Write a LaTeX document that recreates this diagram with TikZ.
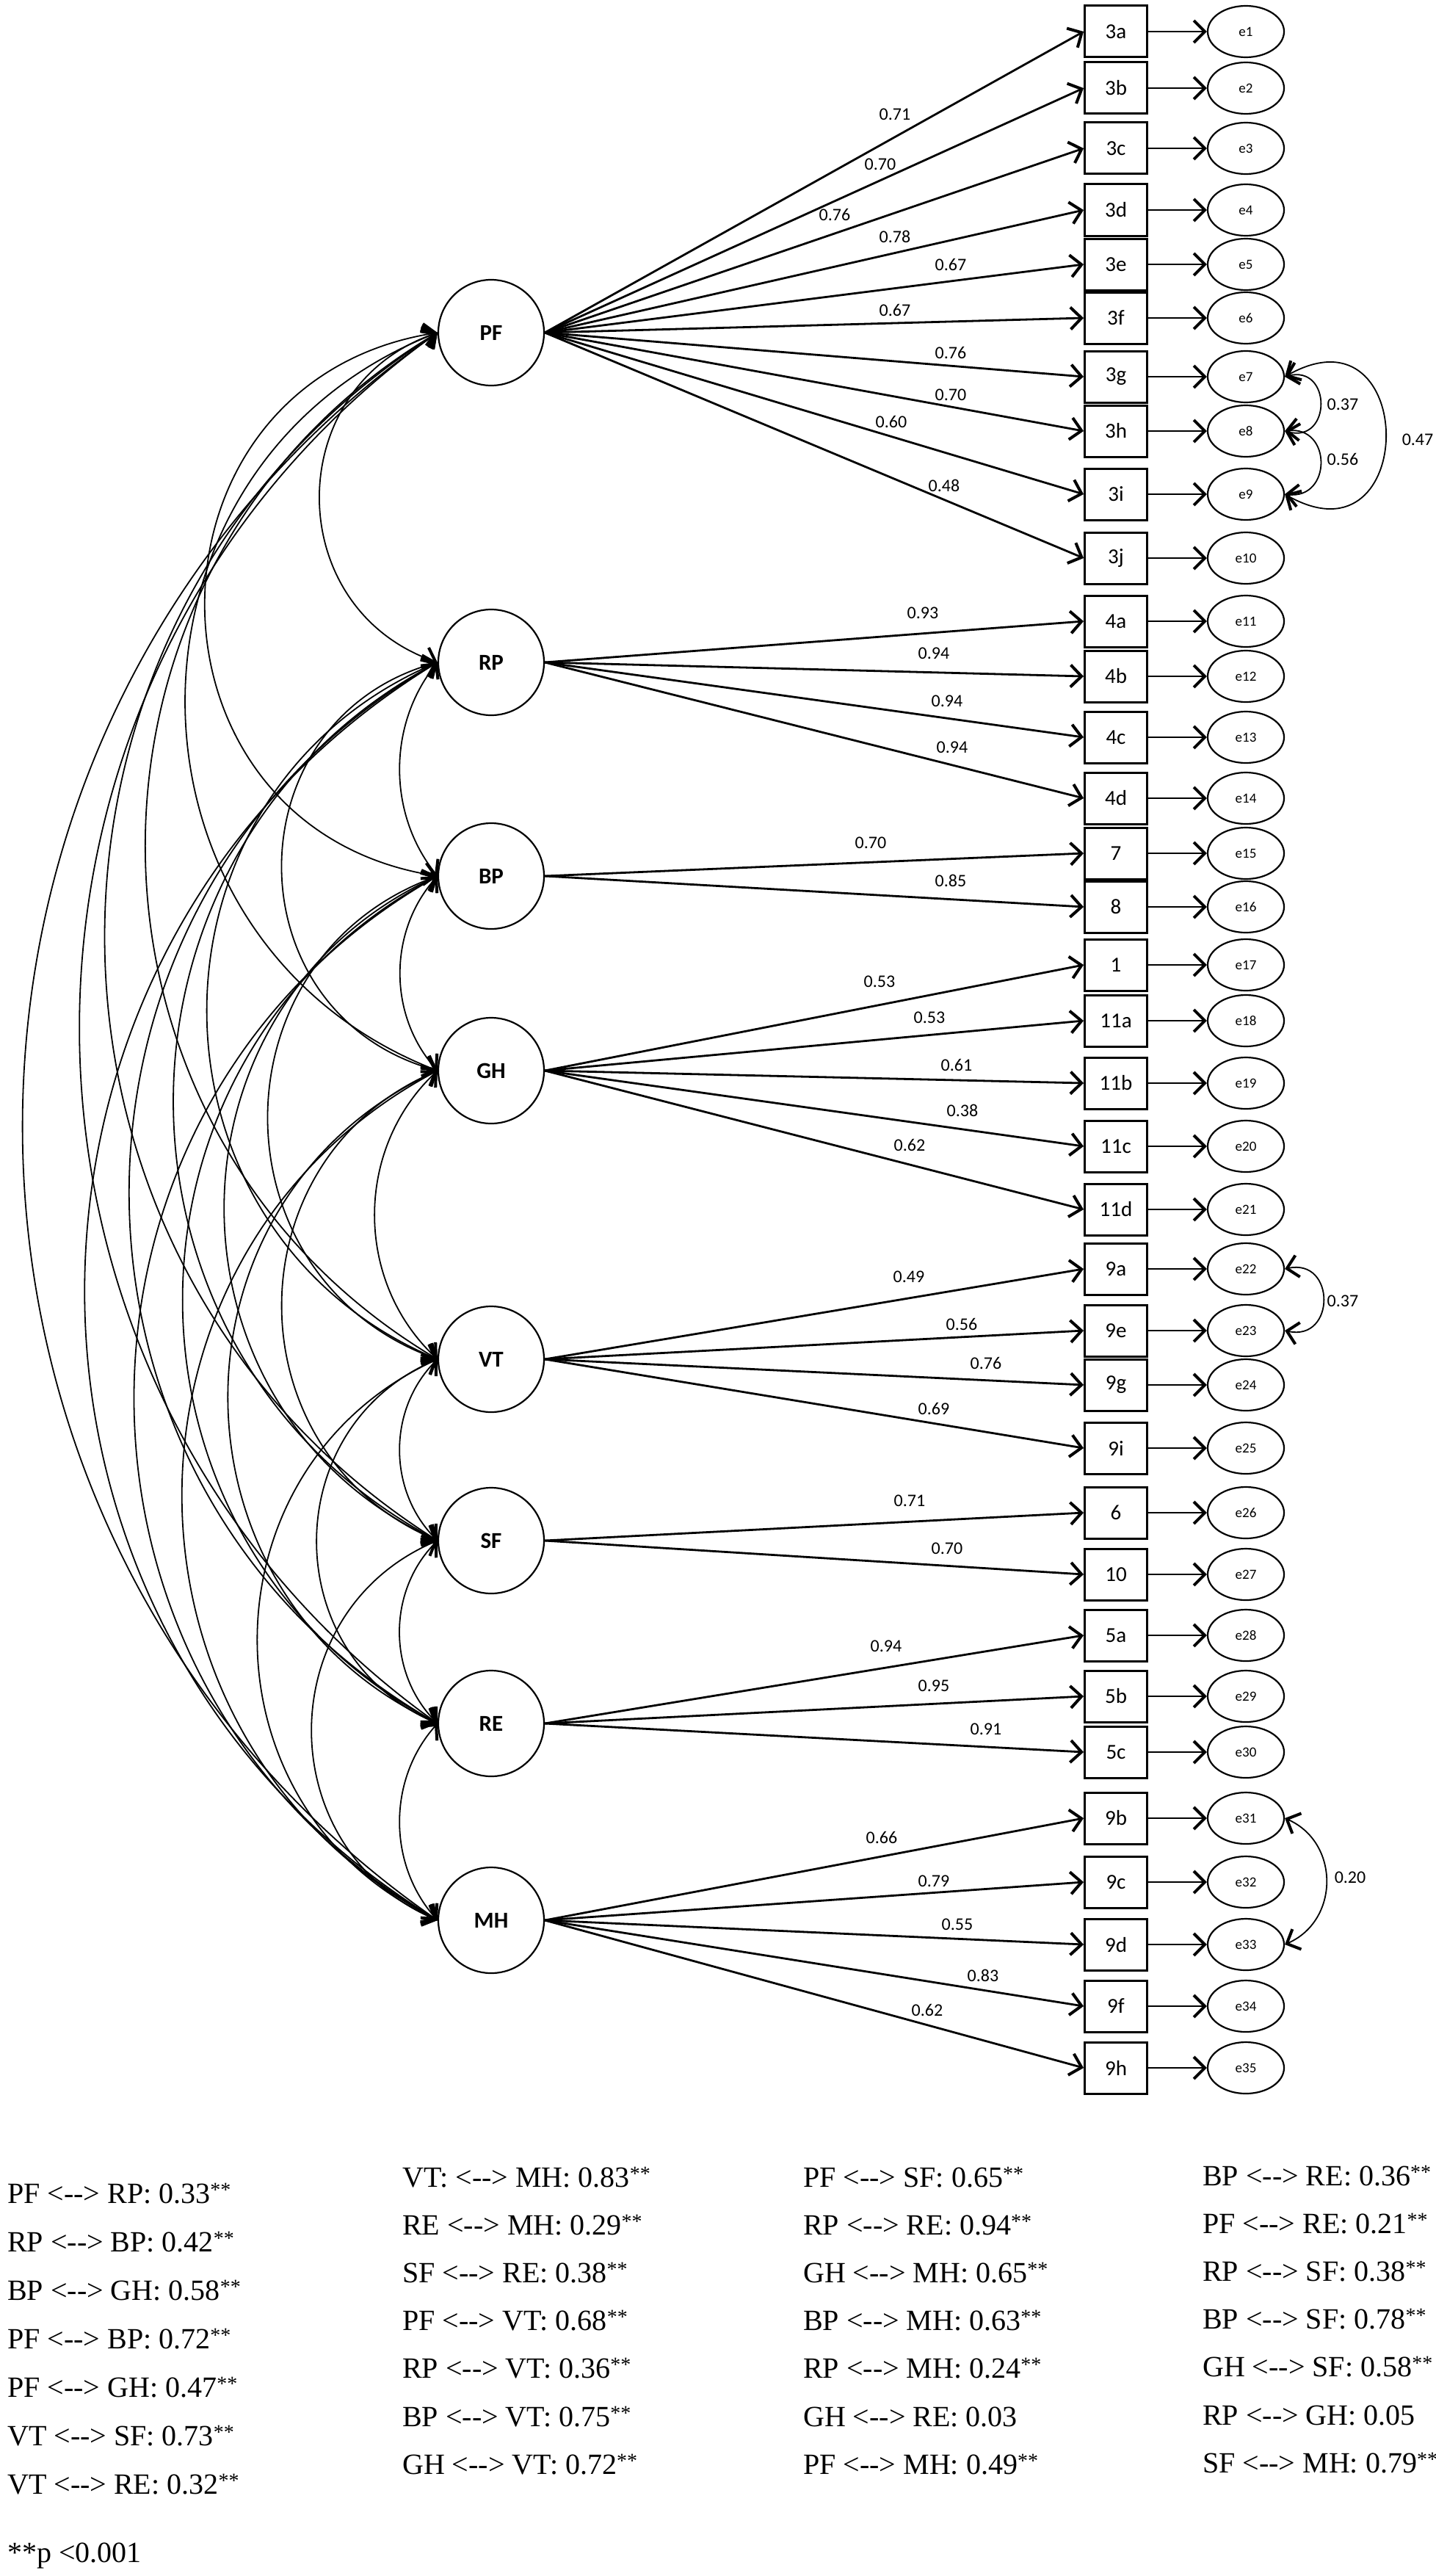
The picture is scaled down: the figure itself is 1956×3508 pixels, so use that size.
\documentclass[tikz,border=0pt]{standalone}
\usepackage{fontspec}
\usetikzlibrary{arrows.meta,calc,shapes.geometric}
\newfontfamily\calib{Carlito}
\newfontfamily\timesf{Liberation Serif}
\newcommand\cvar{<-{}-{}>}
\newcommand\sg{\textsuperscript{**}}
% covariance arc on the left side: top node, bottom node, bulge ratio
\newcommand\covL[3]{%
  \draw[covline] let \p1=(#1.west), \p2=(#2.west), \n1={\y1-\y2},
    \n2={2*atan(2*#3)}, \n3={4/3*#3*\n1/sin(\n2)} in
    (\p1) .. controls ({\x1-\n3*sin(\n2)},{\y1-\n3*cos(\n2)}) and ({\x2-\n3*sin(\n2)},{\y2+\n3*cos(\n2)}) .. (\p2);}
% covariance arc on the right side
\newcommand\covR[3]{%
  \draw[covline] let \p1=(#1.east), \p2=(#2.east), \n1={\y1-\y2},
    \n2={2*atan(2*#3)}, \n3={4/3*#3*\n1/sin(\n2)} in
    (\p1) .. controls ({\x1+\n3*sin(\n2)},{\y1-\n3*cos(\n2)}) and ({\x2+\n3*sin(\n2)},{\y2+\n3*cos(\n2)}) .. (\p2);}
\begin{document}
\begin{tikzpicture}[x=1pt,y=-1pt,
  barb/.tip={Straight Barb[length=15pt,width=30pt,line width=4pt]},
  lat/.style={circle, draw, line width=2.2pt, fill=white, minimum size=144pt, inner sep=0pt,
    font=\calib\bfseries\fontsize{31}{37}\selectfont},
  obs/.style={rectangle, draw, line width=3pt, fill=white, minimum width=85pt, minimum height=70pt,
    inner sep=0pt, font=\calib\fontsize{29}{35}\selectfont},
  err/.style={ellipse, draw, line width=2.2pt, fill=white, minimum width=104pt, minimum height=70pt,
    inner sep=0pt, font=\calib\fontsize{19}{23}\selectfont},
  load/.style={line width=2.8pt, -barb},
  covline/.style={line width=1.8pt, barb-barb},
  lbl/.style={font=\calib\fontsize{24}{29}\selectfont, inner sep=0pt},
  btxt/.style={font=\timesf\fontsize{40}{48}\selectfont, inner sep=0pt, anchor=base west}]

\fill[white] (0,0) rectangle (1956,3508);
\useasboundingbox (0,0) rectangle (1956,3508);

% latent factors
\foreach \nm/\yy in {PF/453, RP/902, BP/1193, GH/1458, VT/1851, SF/2098, RE/2347, MH/2615}
  \node[lat] (\nm) at (669,\yy) {\nm};

% indicators, errors, loadings
\foreach \nm/\yy/\lat/\lx/\ly/\vv [count=\i] in {
3a/43/PF/1219/156/0.71,
3b/120/PF/1199/224/0.70,
3c/202/PF/1137/292/0.76,
3d/286/PF/1219/322/0.78,
3e/360/PF/1295/360/0.67,
3f/433/PF/1219/422/0.67,
3g/513/PF/1295/480/0.76,
3h/587/PF/1295/538/0.70,
3i/673/PF/1214/574/0.60,
3j/760/PF/1286/661/0.48,
4a/846/RP/1257/835/0.93,
4b/921/RP/1272/890/0.94,
4c/1004/RP/1290/955/0.94,
4d/1087/RP/1297/1018/0.94,
7/1162/BP/1186/1148/0.70,
8/1235/BP/1295/1199/0.85,
1/1314/GH/1198/1337/0.53,
11a/1390/GH/1266/1386/0.53,
11b/1475/GH/1303/1450/0.61,
11c/1561/GH/1311/1512/0.38,
11d/1647/GH/1239/1559/0.62,
9a/1728/VT/1238/1739/0.49,
9e/1812/VT/1310/1803/0.56,
9g/1886/VT/1343/1856/0.76,
9i/1972/VT/1272/1918/0.69,
6/2060/SF/1239/2044/0.71,
10/2144/SF/1290/2109/0.70,
5a/2227/RE/1207/2242/0.94,
5b/2310/RE/1272/2296/0.95,
5c/2386/RE/1343/2355/0.91,
9b/2476/MH/1201/2502/0.66,
9c/2563/MH/1272/2562/0.79,
9d/2648/MH/1304/2621/0.55,
9f/2732/MH/1339/2690/0.83,
9h/2816/MH/1263/2737/0.62}{
  \node[obs] (o\nm) at (1520,\yy) {\nm};
  \node[err] (e\i) at (1697,\yy) {e\i};
  \draw[load] (\lat.east) -- (o\nm.west);
  \draw[load] (o\nm.east) -- (e\i.west);
  \node[lbl] (l\nm) at (\lx,\ly) {\vv};
}

% factor covariances
\covL{PF}{RP}{0.356}
\covL{PF}{BP}{0.427}
\covL{PF}{GH}{0.341}
\covL{PF}{VT}{0.284}
\covL{PF}{SF}{0.275}
\covL{PF}{RE}{0.257}
\covL{PF}{MH}{0.261}
\covL{RP}{BP}{0.175}
\covL{RP}{GH}{0.38}
\covL{RP}{VT}{0.33}
\covL{RP}{SF}{0.30}
\covL{RP}{RE}{0.29}
\covL{RP}{MH}{0.28}
\covL{BP}{GH}{0.19}
\covL{BP}{VT}{0.35}
\covL{BP}{SF}{0.32}
\covL{BP}{RE}{0.30}
\covL{BP}{MH}{0.29}
\covL{GH}{VT}{0.216}
\covL{GH}{SF}{0.33}
\covL{GH}{RE}{0.32}
\covL{GH}{MH}{0.30}
\covL{VT}{SF}{0.206}
\covL{VT}{RE}{0.33}
\covL{VT}{MH}{0.32}
\covL{SF}{RE}{0.205}
\covL{SF}{MH}{0.33}
\covL{RE}{MH}{0.19}

% error covariances
\covR{e7}{e8}{0.65}
\covR{e8}{e9}{0.56}
\covR{e7}{e9}{0.856}
\covR{e22}{e23}{0.62}
\covR{e31}{e33}{0.326}
\node[lbl] (c78) at (1829,551) {0.37};
\node[lbl] (c89) at (1829,625) {0.56};
\node[lbl] (c79) at (1931,599) {0.47};
\node[lbl] (c2223) at (1829,1772) {0.37};
\node[lbl] (c3133) at (1839,2557) {0.20};

% correlation list
\foreach \t [count=\k from 0] in {
  PF \cvar{} RP: 0.33\sg, RP \cvar{} BP: 0.42\sg, BP \cvar{} GH: 0.58\sg,
  PF \cvar{} BP: 0.72\sg, PF \cvar{} GH: 0.47\sg, VT \cvar{} SF: 0.73\sg,
  VT \cvar{} RE: 0.32\sg}
  \node[btxt] (ta\k) at (10,{3000+66*\k}) {\t};
\foreach \t [count=\k from 0] in {
  VT: \cvar{} MH: 0.83\sg, RE \cvar{} MH: 0.29\sg, SF \cvar{} RE: 0.38\sg,
  PF \cvar{} VT: 0.68\sg, RP \cvar{} VT: 0.36\sg, BP \cvar{} VT: 0.75\sg,
  GH \cvar{} VT: 0.72\sg}
  \node[btxt] (tb\k) at (548,{2978+65.2*\k}) {\t};
\foreach \t [count=\k from 0] in {
  PF \cvar{} SF: 0.65\sg, RP \cvar{} RE: 0.94\sg, GH \cvar{} MH: 0.65\sg,
  BP \cvar{} MH: 0.63\sg, RP \cvar{} MH: 0.24\sg, GH \cvar{} RE: 0.03,
  PF \cvar{} MH: 0.49\sg}
  \node[btxt] (tc\k) at (1094,{2978+65.2*\k}) {\t};
\foreach \t [count=\k from 0] in {
  BP \cvar{} RE: 0.36\sg, PF \cvar{} RE: 0.21\sg, RP \cvar{} SF: 0.38\sg,
  BP \cvar{} SF: 0.78\sg, GH \cvar{} SF: 0.58\sg, RP \cvar{} GH: 0.05,
  SF \cvar{} MH: 0.79\sg}
  \node[btxt] (td\k) at (1638,{2976+65.2*\k}) {\t};
\node[btxt] (tp) at (10,3489) {**p <0.001};
\end{tikzpicture}
\end{document}
